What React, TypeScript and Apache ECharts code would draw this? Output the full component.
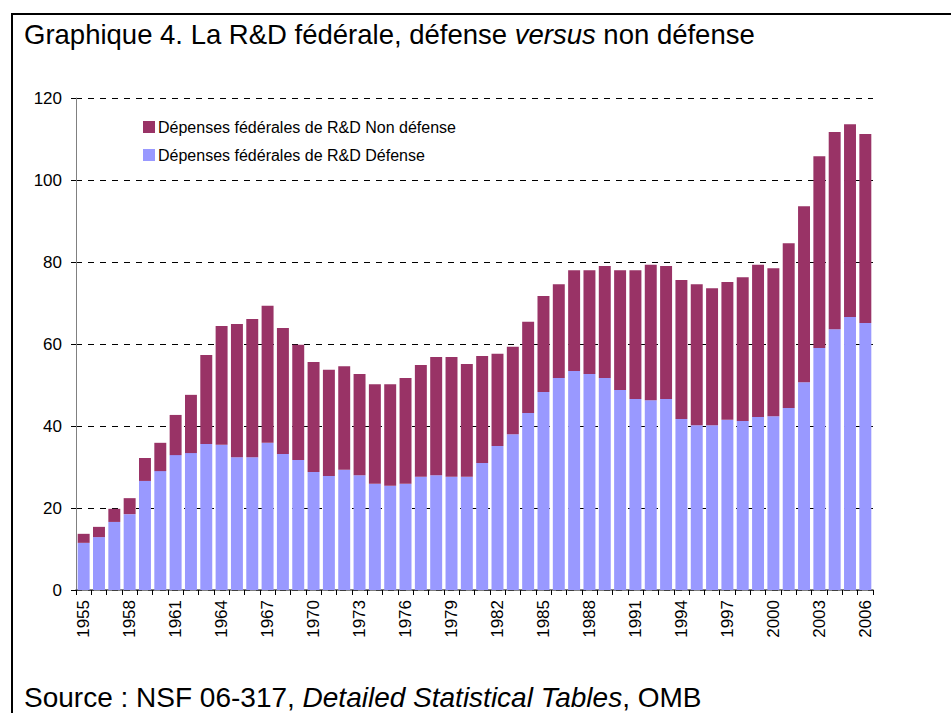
import React, { useEffect, useRef } from "react";
import * as echarts from "echarts";

const years = [
  "1955", "1956", "1957", "1958", "1959", "1960", "1961", "1962", "1963", "1964",
  "1965", "1966", "1967", "1968", "1969", "1970", "1971", "1972", "1973", "1974",
  "1975", "1976", "1977", "1978", "1979", "1980", "1981", "1982", "1983", "1984",
  "1985", "1986", "1987", "1988", "1989", "1990", "1991", "1992", "1993", "1994",
  "1995", "1996", "1997", "1998", "1999", "2000", "2001", "2002", "2003", "2004",
  "2005", "2006",
];

const defense = [
  11.5, 12.9, 16.6, 18.5, 26.6, 29.0, 32.9, 33.4, 35.6, 35.4,
  32.4, 32.4, 35.9, 33.2, 31.7, 28.8, 27.8, 29.3, 28.0, 25.9,
  25.4, 25.9, 27.6, 28.0, 27.6, 27.6, 31.0, 35.1, 38.0, 43.2,
  48.3, 51.7, 53.4, 52.7, 51.7, 48.8, 46.6, 46.3, 46.6, 41.7,
  40.2, 40.2, 41.5, 41.2, 42.2, 42.4, 44.4, 50.7, 59.0, 63.6,
  66.6, 65.1,
];

const nonDefense = [
  2.2, 2.5, 3.2, 3.9, 5.6, 6.9, 9.8, 14.2, 21.7, 29.0,
  32.5, 33.7, 33.4, 30.7, 28.1, 26.8, 25.9, 25.3, 24.7, 24.3,
  24.8, 25.8, 27.3, 28.8, 29.2, 27.5, 26.1, 22.5, 21.3, 22.2,
  23.4, 22.9, 24.6, 25.3, 27.3, 29.2, 31.4, 33.0, 32.4, 33.9,
  34.4, 33.4, 33.6, 35.1, 37.1, 36.1, 40.2, 42.9, 46.8, 48.1,
  47.0, 46.1,
];

const nameNonDef = "Dépenses fédérales de R&D Non défense";
const nameDef = "Dépenses fédérales de R&D Défense";

const FONT = 'Arial, "Liberation Sans", sans-serif';

export default function App() {
  const ref = useRef<HTMLDivElement>(null);

  useEffect(() => {
    if (!ref.current) return;
    const chart = echarts.init(ref.current, null, { renderer: "svg" });
    const rich = (size: number) => ({
      a: { fontFamily: FONT, fontSize: size, color: "#000", fontWeight: "normal", lineHeight: size },
      b: { fontFamily: FONT, fontSize: size, color: "#000", fontWeight: "normal", fontStyle: "italic", lineHeight: size },
    });
    chart.setOption({
      animation: false,
      backgroundColor: "#ffffff",
      textStyle: { fontFamily: FONT, color: "#000" },
      title: [
        {
          left: 24,
          top: 21,
          padding: 0,
          text: "{a|Graphique 4. La R&D fédérale, défense }{b|versus}{a| non défense}",
          textStyle: { fontWeight: "normal", fontSize: 27.5, rich: rich(27.5) },
        },
        {
          left: 24,
          top: 683,
          padding: 0,
          text: "{a|Source : NSF 06-317, }{b|Detailed Statistical Tables}{a|, OMB}",
          textStyle: { fontWeight: "normal", fontSize: 28, rich: rich(28) },
        },
      ],
      graphic: [
        {
          type: "rect",
          shape: { x: 12, y: 14, width: 960, height: 720 },
          style: { fill: "none", stroke: "#000", lineWidth: 2 },
          silent: true,
        },
      ],
      legend: {
        orient: "vertical",
        left: 138,
        top: 114,
        itemWidth: 12,
        itemHeight: 12,
        itemGap: 12,
        icon: "rect",
        data: [nameNonDef, nameDef],
        textStyle: { fontFamily: FONT, fontSize: 16, color: "#000", padding: [0, 0, 0, -2] },
      },
      grid: { left: 76, right: 78, top: 98, bottom: 123, containLabel: false },
      xAxis: {
        type: "category",
        data: years,
        boundaryGap: true,
        axisLine: { show: true, lineStyle: { color: "#555", width: 1.5 } },
        axisTick: { show: true, alignWithLabel: false, interval: 0, length: 5, lineStyle: { color: "#000" } },
        axisLabel: {
          interval: 2,
          rotate: 90,
          margin: 10,
          fontFamily: FONT,
          fontSize: 17,
          color: "#000",
        },
        splitLine: { show: false },
      },
      yAxis: {
        type: "value",
        min: 0,
        max: 120,
        interval: 20,
        axisLine: { show: true, lineStyle: { color: "#808080", width: 1 } },
        axisTick: { show: true, inside: false, length: 5, lineStyle: { color: "#000" } },
        axisLabel: { margin: 14, fontFamily: FONT, fontSize: 17, color: "#000" },
        splitLine: { show: true, lineStyle: { color: "#000", type: [6, 6], width: 1 } },
      },
      series: [
        {
          name: nameDef,
          type: "bar",
          stack: "total",
          data: defense,
          barCategoryGap: "22%",
          itemStyle: { color: "#9999FF" },
        },
        {
          name: nameNonDef,
          type: "bar",
          stack: "total",
          data: nonDefense,
          barCategoryGap: "22%",
          itemStyle: { color: "#993366" },
        },
      ],
    });
    return () => chart.dispose();
  }, []);

  return (
    <div
      ref={ref}
      style={{ position: "absolute", left: 0, top: 0, width: 951, height: 713 }}
    />
  );
}
